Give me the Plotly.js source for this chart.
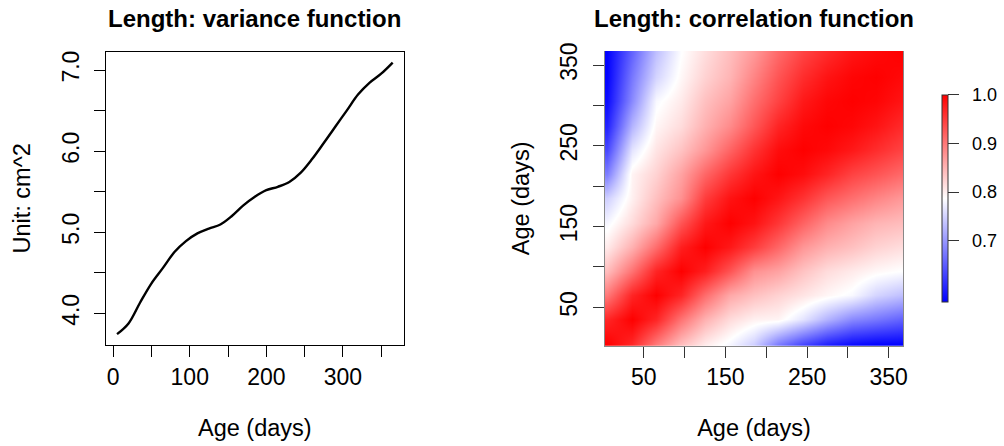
<!DOCTYPE html>
<html>
<head>
<meta charset="utf-8">
<script src="https://cdn.plot.ly/plotly-3.0.1.min.js"></script>
<style>
  html, body { margin: 0; padding: 0; background: #ffffff; }
  #chart { width: 1004px; height: 446px; }
</style>
</head>
<body>
<div id="chart"></div>
<script>
// ---------- data: variance function ----------
const varianceAge = [5, 20, 35, 50, 65, 80, 95, 110, 125, 140, 155, 170, 185,
                     200, 215, 230, 245, 260, 275, 290, 305, 320, 335, 350, 365];
const varianceValue = [3.743, 3.875, 4.13, 4.37, 4.56, 4.755, 4.89, 4.985, 5.045, 5.095, 5.20, 5.33, 5.437,
                       5.518, 5.56, 5.62, 5.735, 5.905, 6.10, 6.30, 6.50, 6.70, 6.845, 6.955, 7.092];

// ---------- data: correlation function (lower triangle, rows = older age) ----------
const corrAge = [5, 35, 65, 95, 125, 155, 185, 215, 245, 275, 305, 335, 365];
const corrRow005 = [1];
const corrRow035 = [0.968, 1];
const corrRow065 = [0.900, 0.970, 1];
const corrRow095 = [0.843, 0.905, 0.970, 1];
const corrRow125 = [0.805, 0.853, 0.910, 0.975, 1];
const corrRow155 = [0.780, 0.818, 0.860, 0.930, 0.980, 1];
const corrRow185 = [0.748, 0.800, 0.840, 0.880, 0.950, 0.985, 1];
const corrRow215 = [0.680, 0.797, 0.825, 0.865, 0.915, 0.955, 0.983, 1];
const corrRow245 = [0.635, 0.765, 0.810, 0.838, 0.875, 0.918, 0.958, 0.990, 1];
const corrRow275 = [0.603, 0.725, 0.795, 0.817, 0.853, 0.885, 0.928, 0.970, 0.993, 1];
const corrRow305 = [0.585, 0.690, 0.782, 0.805, 0.840, 0.865, 0.908, 0.945, 0.980, 0.995, 1];
const corrRow335 = [0.578, 0.675, 0.752, 0.794, 0.825, 0.850, 0.890, 0.930, 0.963, 0.984, 0.996, 1];
const corrRow365 = [0.577, 0.658, 0.735, 0.787, 0.816, 0.843, 0.874, 0.913, 0.945, 0.966, 0.984, 0.993, 1];

const lowerRows = [corrRow005, corrRow035, corrRow065, corrRow095, corrRow125, corrRow155, corrRow185,
                   corrRow215, corrRow245, corrRow275, corrRow305, corrRow335, corrRow365];

// symmetric correlation matrix built from the lower triangle
const corrZ = corrAge.map((_, i) => corrAge.map((_, j) => (j <= i ? lowerRows[i][j] : lowerRows[j][i])));

const xTicksLeft = [0, 50, 100, 150, 200, 250, 300, 350];
const xTickTextLeft = ['0', '', '100', '', '200', '', '300', ''];
const yTicksLeft = [4.0, 4.5, 5.0, 5.5, 6.0, 6.5, 7.0];
const yTickTextLeft = ['4.0', '', '5.0', '', '6.0', '', '7.0'];
const ticksRight = [50, 100, 150, 200, 250, 300, 350];
const tickTextRight = ['50', '', '150', '', '250', '', '350'];
const cbTicks = [0.7, 0.8, 0.9, 1.0];
const cbTickText = ['0.7', '0.8', '0.9', '1.0'];

const W = 1004, H = 446;
const px = v => v / W;
const py = v => 1 - v / H;

const FONT = '"Liberation Sans", Arial, Helvetica, sans-serif';

// colour bar geometry (layout, pixels) and colour range
const ZMIN = 0.575, ZMAX = 1.0;
const CB_CENTER = 198.3, CB_LEN = 206.7;
const cbBottom = py(CB_CENTER + CB_LEN / 2);
const cbValueToPaper = v => cbBottom + (v - ZMIN) / (ZMAX - ZMIN) * (CB_LEN / H);

const traces = [
  {
    type: 'scatter', mode: 'lines',
    x: varianceAge, y: varianceValue,
    line: { color: '#000000', width: 2.4, shape: 'spline', smoothing: 1 },
    xaxis: 'x', yaxis: 'y', hoverinfo: 'x+y', showlegend: false
  },
  {
    type: 'heatmap',
    x: corrAge, y: corrAge, z: corrZ,
    zsmooth: 'best',
    zmin: ZMIN, zmax: ZMAX,
    colorscale: [[0, 'rgb(0,0,255)'], [0.5, 'rgb(255,255,255)'], [1, 'rgb(255,0,0)']],
    xaxis: 'x2', yaxis: 'y2',
    colorbar: {
      x: px(941.5), xanchor: 'left', xpad: 0,
      y: py(CB_CENTER), yanchor: 'middle', ypad: 0,
      len: CB_LEN, lenmode: 'pixels',
      thickness: 6, thicknessmode: 'pixels',
      outlinewidth: 1, outlinecolor: '#333333',
      tickmode: 'array', tickvals: cbTicks,
      showticklabels: false,
      ticks: 'outside', ticklen: 11, tickwidth: 1, tickcolor: '#333333'
    }
  }
];

const axCommon = {
  showgrid: false, zeroline: false,
  ticks: 'outside', ticklen: 11, tickwidth: 1,
  tickmode: 'array',
  fixedrange: true
};

const annotations = [
  {
    text: '<b>Length: variance function</b>',
    xref: 'paper', yref: 'paper', x: px(254.8), y: py(18), xanchor: 'center', yanchor: 'middle',
    showarrow: false, font: { family: FONT, size: 24, color: '#000000' }
  },
  {
    text: '<b>Length: correlation function</b>',
    xref: 'paper', yref: 'paper', x: px(754), y: py(18), xanchor: 'center', yanchor: 'middle',
    showarrow: false, font: { family: FONT, size: 24, color: '#000000' }
  }
].concat(cbTicks.map((v, i) => ({
  text: cbTickText[i],
  xref: 'paper', yref: 'paper', x: px(969.5), y: cbValueToPaper(v),
  xanchor: 'left', yanchor: 'middle', showarrow: false,
  font: { family: FONT, size: 18, color: '#000000' }
})));

const layout = {
  width: W, height: H,
  margin: { l: 0, r: 0, t: 0, b: 0 },
  paper_bgcolor: '#ffffff', plot_bgcolor: '#ffffff',
  font: { family: FONT, color: '#000000' },
  showlegend: false,
  xaxis: Object.assign({}, axCommon, {
    domain: [px(106), px(403.7)], anchor: 'y',
    range: [-9.4, 379.4],
    tickvals: xTicksLeft, ticktext: xTickTextLeft,
    tickcolor: '#000000',
    showline: true, mirror: true, linecolor: '#000000', linewidth: 1,
    tickfont: { family: FONT, size: 23 },
    title: { text: 'Age (days)', font: { family: FONT, size: 23.5 }, standoff: 30 }
  }),
  yaxis: Object.assign({}, axCommon, {
    domain: [py(345), py(51.7)], anchor: 'x',
    range: [3.609, 7.226],
    tickvals: yTicksLeft, ticktext: yTickTextLeft,
    tickangle: -90,
    tickcolor: '#000000',
    ticklabelstandoff: 6,
    showline: true, mirror: true, linecolor: '#000000', linewidth: 1,
    tickfont: { family: FONT, size: 23 },
    title: { text: 'Unit: cm^2', font: { family: FONT, size: 23.5 }, standoff: 20 }
  }),
  xaxis2: Object.assign({}, axCommon, {
    domain: [px(605), px(903)], anchor: 'y2',
    range: [2.5, 367.5],
    tickvals: ticksRight, ticktext: tickTextRight,
    tickcolor: '#333333',
    showline: true, linecolor: '#888888', linewidth: 1,
    tickfont: { family: FONT, size: 23 },
    title: { text: 'Age (days)', font: { family: FONT, size: 23.5 }, standoff: 30 }
  }),
  yaxis2: Object.assign({}, axCommon, {
    domain: [py(345.7), py(51)], anchor: 'x2',
    range: [2.5, 367.5],
    tickvals: ticksRight, ticktext: tickTextRight,
    tickangle: -90,
    tickcolor: '#333333',
    ticklabelstandoff: 7,
    showline: true, mirror: true, linecolor: '#888888', linewidth: 1,
    tickfont: { family: FONT, size: 23 },
    title: { text: 'Age (days)', font: { family: FONT, size: 23.5 }, standoff: 19 }
  }),
  annotations: annotations
};

Plotly.newPlot('chart', traces, layout, { displayModeBar: false, staticPlot: true });
</script>
</body>
</html>
